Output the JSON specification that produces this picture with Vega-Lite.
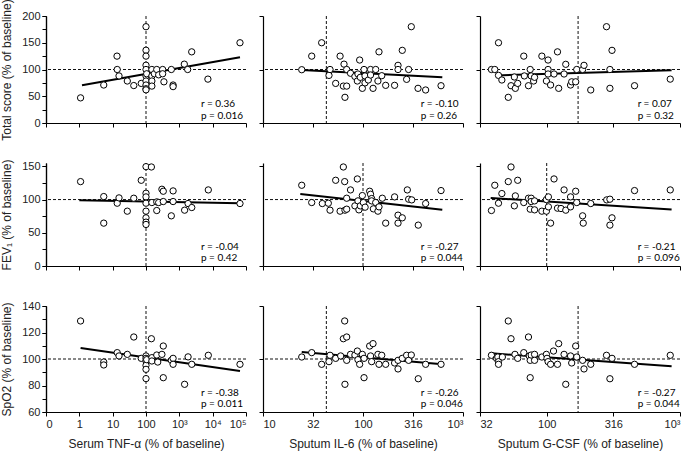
{
"$schema":"https://vega.github.io/schema/vega-lite/v6.json",
"autosize":{"type":"none"},
"padding":{"left":46,"top":16,"right":639,"bottom":441},
"background":"white",
"datasets":{
"pts":[
{"marker":"TNF","outcome":"Total","x":1.09,"y":47},{"marker":"TNF","outcome":"Total","x":5.4,"y":71},{"marker":"TNF","outcome":"Total","x":13.5,"y":125},{"marker":"TNF","outcome":"Total","x":13.7,"y":100},{"marker":"TNF","outcome":"Total","x":15.5,"y":88},{"marker":"TNF","outcome":"Total","x":27.5,"y":78.5},{"marker":"TNF","outcome":"Total","x":43,"y":70},{"marker":"TNF","outcome":"Total","x":72,"y":74},{"marker":"TNF","outcome":"Total","x":100,"y":180},{"marker":"TNF","outcome":"Total","x":100,"y":136},{"marker":"TNF","outcome":"Total","x":100,"y":125},{"marker":"TNF","outcome":"Total","x":100,"y":108},{"marker":"TNF","outcome":"Total","x":100,"y":100},{"marker":"TNF","outcome":"Total","x":100,"y":88},{"marker":"TNF","outcome":"Total","x":100,"y":78.5},{"marker":"TNF","outcome":"Total","x":100,"y":71},{"marker":"TNF","outcome":"Total","x":100,"y":64},{"marker":"TNF","outcome":"Total","x":100,"y":62},{"marker":"TNF","outcome":"Total","x":105,"y":92},{"marker":"TNF","outcome":"Total","x":150,"y":100},{"marker":"TNF","outcome":"Total","x":150,"y":88},{"marker":"TNF","outcome":"Total","x":150,"y":78.5},{"marker":"TNF","outcome":"Total","x":150,"y":69},{"marker":"TNF","outcome":"Total","x":178,"y":92},{"marker":"TNF","outcome":"Total","x":210,"y":100},{"marker":"TNF","outcome":"Total","x":240,"y":90},{"marker":"TNF","outcome":"Total","x":316,"y":100},{"marker":"TNF","outcome":"Total","x":316,"y":92},{"marker":"TNF","outcome":"Total","x":345,"y":77},{"marker":"TNF","outcome":"Total","x":575,"y":100},{"marker":"TNF","outcome":"Total","x":650,"y":71},{"marker":"TNF","outcome":"Total","x":650,"y":68},{"marker":"TNF","outcome":"Total","x":1410,"y":110},{"marker":"TNF","outcome":"Total","x":1780,"y":100},{"marker":"TNF","outcome":"Total","x":2350,"y":133},{"marker":"TNF","outcome":"Total","x":7200,"y":82},{"marker":"TNF","outcome":"Total","x":66000,"y":150},
{"marker":"TNF","outcome":"FEV1","x":1.09,"y":127},{"marker":"TNF","outcome":"FEV1","x":5.4,"y":104.5},{"marker":"TNF","outcome":"FEV1","x":5.4,"y":64.5},{"marker":"TNF","outcome":"FEV1","x":13.7,"y":94.5},{"marker":"TNF","outcome":"FEV1","x":15.5,"y":102.5},{"marker":"TNF","outcome":"FEV1","x":27.5,"y":82.5},{"marker":"TNF","outcome":"FEV1","x":43,"y":102},{"marker":"TNF","outcome":"FEV1","x":72,"y":129},{"marker":"TNF","outcome":"FEV1","x":100,"y":149.5},{"marker":"TNF","outcome":"FEV1","x":145,"y":149},{"marker":"TNF","outcome":"FEV1","x":100,"y":109.5},{"marker":"TNF","outcome":"FEV1","x":100,"y":104},{"marker":"TNF","outcome":"FEV1","x":100,"y":94.5},{"marker":"TNF","outcome":"FEV1","x":100,"y":82.5},{"marker":"TNF","outcome":"FEV1","x":100,"y":72.5},{"marker":"TNF","outcome":"FEV1","x":100,"y":66},{"marker":"TNF","outcome":"FEV1","x":100,"y":62.5},{"marker":"TNF","outcome":"FEV1","x":150,"y":95.5},{"marker":"TNF","outcome":"FEV1","x":210,"y":96.5},{"marker":"TNF","outcome":"FEV1","x":210,"y":83.5},{"marker":"TNF","outcome":"FEV1","x":240,"y":95.5},{"marker":"TNF","outcome":"FEV1","x":300,"y":115.5},{"marker":"TNF","outcome":"FEV1","x":330,"y":112.5},{"marker":"TNF","outcome":"FEV1","x":330,"y":97},{"marker":"TNF","outcome":"FEV1","x":575,"y":75.5},{"marker":"TNF","outcome":"FEV1","x":650,"y":113},{"marker":"TNF","outcome":"FEV1","x":650,"y":97},{"marker":"TNF","outcome":"FEV1","x":1440,"y":84},{"marker":"TNF","outcome":"FEV1","x":1830,"y":94},{"marker":"TNF","outcome":"FEV1","x":2360,"y":88},{"marker":"TNF","outcome":"FEV1","x":7400,"y":114.5},{"marker":"TNF","outcome":"FEV1","x":66000,"y":94},
{"marker":"TNF","outcome":"SpO2","x":1.09,"y":128.7},{"marker":"TNF","outcome":"SpO2","x":5.4,"y":97.7},{"marker":"TNF","outcome":"SpO2","x":5.4,"y":95.5},{"marker":"TNF","outcome":"SpO2","x":13.7,"y":104.8},{"marker":"TNF","outcome":"SpO2","x":15.5,"y":102.3},{"marker":"TNF","outcome":"SpO2","x":27.5,"y":103.5},{"marker":"TNF","outcome":"SpO2","x":43,"y":116.6},{"marker":"TNF","outcome":"SpO2","x":72,"y":100.5},{"marker":"TNF","outcome":"SpO2","x":100,"y":102.3},{"marker":"TNF","outcome":"SpO2","x":100,"y":100.5},{"marker":"TNF","outcome":"SpO2","x":100,"y":98.5},{"marker":"TNF","outcome":"SpO2","x":100,"y":95.2},{"marker":"TNF","outcome":"SpO2","x":100,"y":92.2},{"marker":"TNF","outcome":"SpO2","x":100,"y":85.2},{"marker":"TNF","outcome":"SpO2","x":105,"y":99.5},{"marker":"TNF","outcome":"SpO2","x":145,"y":115.3},{"marker":"TNF","outcome":"SpO2","x":150,"y":101},{"marker":"TNF","outcome":"SpO2","x":150,"y":98.5},{"marker":"TNF","outcome":"SpO2","x":210,"y":103},{"marker":"TNF","outcome":"SpO2","x":225,"y":97.7},{"marker":"TNF","outcome":"SpO2","x":300,"y":103.5},{"marker":"TNF","outcome":"SpO2","x":330,"y":109.8},{"marker":"TNF","outcome":"SpO2","x":330,"y":85.9},{"marker":"TNF","outcome":"SpO2","x":575,"y":99},{"marker":"TNF","outcome":"SpO2","x":650,"y":100.5},{"marker":"TNF","outcome":"SpO2","x":650,"y":96},{"marker":"TNF","outcome":"SpO2","x":1440,"y":80.9},{"marker":"TNF","outcome":"SpO2","x":1830,"y":101.6},{"marker":"TNF","outcome":"SpO2","x":2360,"y":96},{"marker":"TNF","outcome":"SpO2","x":7400,"y":102.8},{"marker":"TNF","outcome":"SpO2","x":66000,"y":96},
{"marker":"IL6","outcome":"Total","x":24.4,"y":99.6},{"marker":"IL6","outcome":"Total","x":30.7,"y":125},{"marker":"IL6","outcome":"Total","x":38.6,"y":150},{"marker":"IL6","outcome":"Total","x":45.7,"y":89},{"marker":"IL6","outcome":"Total","x":46.8,"y":100},{"marker":"IL6","outcome":"Total","x":53.3,"y":74},{"marker":"IL6","outcome":"Total","x":59,"y":125},{"marker":"IL6","outcome":"Total","x":63.6,"y":69},{"marker":"IL6","outcome":"Total","x":64.6,"y":110},{"marker":"IL6","outcome":"Total","x":66,"y":48},{"marker":"IL6","outcome":"Total","x":68.7,"y":100},{"marker":"IL6","outcome":"Total","x":68.7,"y":69},{"marker":"IL6","outcome":"Total","x":75,"y":93},{"marker":"IL6","outcome":"Total","x":83,"y":87},{"marker":"IL6","outcome":"Total","x":87.8,"y":78.5},{"marker":"IL6","outcome":"Total","x":89,"y":91.6},{"marker":"IL6","outcome":"Total","x":92.6,"y":117.7},{"marker":"IL6","outcome":"Total","x":94,"y":85.4},{"marker":"IL6","outcome":"Total","x":98.5,"y":64.8},{"marker":"IL6","outcome":"Total","x":102.4,"y":100},{"marker":"IL6","outcome":"Total","x":104.7,"y":75},{"marker":"IL6","outcome":"Total","x":104.7,"y":88},{"marker":"IL6","outcome":"Total","x":113,"y":80.4},{"marker":"IL6","outcome":"Total","x":119,"y":100},{"marker":"IL6","outcome":"Total","x":119,"y":89.7},{"marker":"IL6","outcome":"Total","x":126,"y":64.8},{"marker":"IL6","outcome":"Total","x":134,"y":100},{"marker":"IL6","outcome":"Total","x":141,"y":78.5},{"marker":"IL6","outcome":"Total","x":144.5,"y":133},{"marker":"IL6","outcome":"Total","x":154,"y":88.4},{"marker":"IL6","outcome":"Total","x":168.6,"y":70.4},{"marker":"IL6","outcome":"Total","x":207,"y":70.4},{"marker":"IL6","outcome":"Total","x":224,"y":107.8},{"marker":"IL6","outcome":"Total","x":224,"y":100},{"marker":"IL6","outcome":"Total","x":247,"y":135.8},{"marker":"IL6","outcome":"Total","x":273,"y":81.6},{"marker":"IL6","outcome":"Total","x":286,"y":100},{"marker":"IL6","outcome":"Total","x":304,"y":180},{"marker":"IL6","outcome":"Total","x":355,"y":64.8},{"marker":"IL6","outcome":"Total","x":423,"y":61.7},{"marker":"IL6","outcome":"Total","x":603,"y":69.7},
{"marker":"IL6","outcome":"FEV1","x":24.4,"y":121.5},{"marker":"IL6","outcome":"FEV1","x":30.7,"y":95.5},{"marker":"IL6","outcome":"FEV1","x":39.2,"y":94},{"marker":"IL6","outcome":"FEV1","x":45,"y":94.5},{"marker":"IL6","outcome":"FEV1","x":46.8,"y":84},{"marker":"IL6","outcome":"FEV1","x":53.3,"y":129},{"marker":"IL6","outcome":"FEV1","x":59,"y":82.5},{"marker":"IL6","outcome":"FEV1","x":63.6,"y":149},{"marker":"IL6","outcome":"FEV1","x":65.6,"y":127},{"marker":"IL6","outcome":"FEV1","x":66,"y":84},{"marker":"IL6","outcome":"FEV1","x":68.7,"y":85.5},{"marker":"IL6","outcome":"FEV1","x":68.7,"y":102},{"marker":"IL6","outcome":"FEV1","x":75,"y":114.5},{"marker":"IL6","outcome":"FEV1","x":83,"y":90.5},{"marker":"IL6","outcome":"FEV1","x":87.8,"y":131},{"marker":"IL6","outcome":"FEV1","x":89,"y":98},{"marker":"IL6","outcome":"FEV1","x":91,"y":84.5},{"marker":"IL6","outcome":"FEV1","x":94,"y":90.5},{"marker":"IL6","outcome":"FEV1","x":98.5,"y":106},{"marker":"IL6","outcome":"FEV1","x":100.8,"y":95.5},{"marker":"IL6","outcome":"FEV1","x":105,"y":88.5},{"marker":"IL6","outcome":"FEV1","x":116.6,"y":112.5},{"marker":"IL6","outcome":"FEV1","x":119,"y":108},{"marker":"IL6","outcome":"FEV1","x":122,"y":101.5},{"marker":"IL6","outcome":"FEV1","x":122,"y":98},{"marker":"IL6","outcome":"FEV1","x":127,"y":86},{"marker":"IL6","outcome":"FEV1","x":134,"y":95.5},{"marker":"IL6","outcome":"FEV1","x":141,"y":82.5},{"marker":"IL6","outcome":"FEV1","x":144.5,"y":89},{"marker":"IL6","outcome":"FEV1","x":156,"y":102},{"marker":"IL6","outcome":"FEV1","x":168.6,"y":64.5},{"marker":"IL6","outcome":"FEV1","x":207,"y":104},{"marker":"IL6","outcome":"FEV1","x":224,"y":76.5},{"marker":"IL6","outcome":"FEV1","x":224,"y":64.5},{"marker":"IL6","outcome":"FEV1","x":247,"y":72.5},{"marker":"IL6","outcome":"FEV1","x":277.5,"y":114.5},{"marker":"IL6","outcome":"FEV1","x":286,"y":100.5},{"marker":"IL6","outcome":"FEV1","x":307,"y":99.5},{"marker":"IL6","outcome":"FEV1","x":357,"y":61.5},{"marker":"IL6","outcome":"FEV1","x":423,"y":94},{"marker":"IL6","outcome":"FEV1","x":603,"y":113.5},
{"marker":"IL6","outcome":"SpO2","x":24.4,"y":101.5},{"marker":"IL6","outcome":"SpO2","x":30.7,"y":104.8},{"marker":"IL6","outcome":"SpO2","x":38.6,"y":96},{"marker":"IL6","outcome":"SpO2","x":45.7,"y":98},{"marker":"IL6","outcome":"SpO2","x":46.8,"y":102.8},{"marker":"IL6","outcome":"SpO2","x":53.3,"y":100.5},{"marker":"IL6","outcome":"SpO2","x":59.8,"y":102.3},{"marker":"IL6","outcome":"SpO2","x":63.6,"y":115.3},{"marker":"IL6","outcome":"SpO2","x":65.6,"y":128.7},{"marker":"IL6","outcome":"SpO2","x":66,"y":80.9},{"marker":"IL6","outcome":"SpO2","x":68.7,"y":116.6},{"marker":"IL6","outcome":"SpO2","x":68.7,"y":99},{"marker":"IL6","outcome":"SpO2","x":75,"y":103.5},{"marker":"IL6","outcome":"SpO2","x":83,"y":103},{"marker":"IL6","outcome":"SpO2","x":87.8,"y":106},{"marker":"IL6","outcome":"SpO2","x":89,"y":99.5},{"marker":"IL6","outcome":"SpO2","x":92.6,"y":96},{"marker":"IL6","outcome":"SpO2","x":98.5,"y":103.5},{"marker":"IL6","outcome":"SpO2","x":102.4,"y":85.9},{"marker":"IL6","outcome":"SpO2","x":102.4,"y":100.5},{"marker":"IL6","outcome":"SpO2","x":116.6,"y":109.8},{"marker":"IL6","outcome":"SpO2","x":126,"y":111.6},{"marker":"IL6","outcome":"SpO2","x":119,"y":102.3},{"marker":"IL6","outcome":"SpO2","x":122,"y":98},{"marker":"IL6","outcome":"SpO2","x":141,"y":103.5},{"marker":"IL6","outcome":"SpO2","x":144.5,"y":96},{"marker":"IL6","outcome":"SpO2","x":154,"y":102.8},{"marker":"IL6","outcome":"SpO2","x":168.6,"y":96},{"marker":"IL6","outcome":"SpO2","x":207,"y":97},{"marker":"IL6","outcome":"SpO2","x":224,"y":92.5},{"marker":"IL6","outcome":"SpO2","x":224,"y":99},{"marker":"IL6","outcome":"SpO2","x":247,"y":100.5},{"marker":"IL6","outcome":"SpO2","x":273,"y":102.8},{"marker":"IL6","outcome":"SpO2","x":286,"y":99},{"marker":"IL6","outcome":"SpO2","x":304,"y":103},{"marker":"IL6","outcome":"SpO2","x":357,"y":85.1},{"marker":"IL6","outcome":"SpO2","x":423,"y":96},{"marker":"IL6","outcome":"SpO2","x":603,"y":96},
{"marker":"GCSF","outcome":"Total","x":38.5,"y":100},{"marker":"GCSF","outcome":"Total","x":40.8,"y":100},{"marker":"GCSF","outcome":"Total","x":43.5,"y":150},{"marker":"GCSF","outcome":"Total","x":43.5,"y":89},{"marker":"GCSF","outcome":"Total","x":46.1,"y":80.4},{"marker":"GCSF","outcome":"Total","x":51.5,"y":48},{"marker":"GCSF","outcome":"Total","x":54,"y":69.7},{"marker":"GCSF","outcome":"Total","x":57.2,"y":86},{"marker":"GCSF","outcome":"Total","x":58.2,"y":64.8},{"marker":"GCSF","outcome":"Total","x":60.6,"y":74},{"marker":"GCSF","outcome":"Total","x":67.3,"y":125},{"marker":"GCSF","outcome":"Total","x":68,"y":88},{"marker":"GCSF","outcome":"Total","x":73,"y":69.7},{"marker":"GCSF","outcome":"Total","x":75.2,"y":100},{"marker":"GCSF","outcome":"Total","x":76.5,"y":88},{"marker":"GCSF","outcome":"Total","x":79.8,"y":78.5},{"marker":"GCSF","outcome":"Total","x":81.1,"y":85.4},{"marker":"GCSF","outcome":"Total","x":92,"y":125},{"marker":"GCSF","outcome":"Total","x":99.5,"y":78.5},{"marker":"GCSF","outcome":"Total","x":102.4,"y":117.7},{"marker":"GCSF","outcome":"Total","x":102.4,"y":100},{"marker":"GCSF","outcome":"Total","x":102.4,"y":91.6},{"marker":"GCSF","outcome":"Total","x":107,"y":71},{"marker":"GCSF","outcome":"Total","x":113.5,"y":91.6},{"marker":"GCSF","outcome":"Total","x":120.5,"y":133},{"marker":"GCSF","outcome":"Total","x":123,"y":64.8},{"marker":"GCSF","outcome":"Total","x":135,"y":91.6},{"marker":"GCSF","outcome":"Total","x":139,"y":109.7},{"marker":"GCSF","outcome":"Total","x":151,"y":71},{"marker":"GCSF","outcome":"Total","x":154,"y":77},{"marker":"GCSF","outcome":"Total","x":165,"y":77},{"marker":"GCSF","outcome":"Total","x":168,"y":100},{"marker":"GCSF","outcome":"Total","x":186,"y":100},{"marker":"GCSF","outcome":"Total","x":190.5,"y":107.8},{"marker":"GCSF","outcome":"Total","x":214,"y":61.7},{"marker":"GCSF","outcome":"Total","x":281,"y":180},{"marker":"GCSF","outcome":"Total","x":298,"y":100},{"marker":"GCSF","outcome":"Total","x":298,"y":64.8},{"marker":"GCSF","outcome":"Total","x":309,"y":135.8},{"marker":"GCSF","outcome":"Total","x":456,"y":69.7},{"marker":"GCSF","outcome":"Total","x":845,"y":82},
{"marker":"GCSF","outcome":"FEV1","x":38.5,"y":83.5},{"marker":"GCSF","outcome":"FEV1","x":40.8,"y":121.5},{"marker":"GCSF","outcome":"FEV1","x":43.5,"y":94.5},{"marker":"GCSF","outcome":"FEV1","x":46.1,"y":109},{"marker":"GCSF","outcome":"FEV1","x":54,"y":149},{"marker":"GCSF","outcome":"FEV1","x":51.5,"y":127},{"marker":"GCSF","outcome":"FEV1","x":57.2,"y":90.5},{"marker":"GCSF","outcome":"FEV1","x":58.2,"y":105.5},{"marker":"GCSF","outcome":"FEV1","x":60.6,"y":129},{"marker":"GCSF","outcome":"FEV1","x":67.3,"y":95.5},{"marker":"GCSF","outcome":"FEV1","x":73,"y":102},{"marker":"GCSF","outcome":"FEV1","x":75.2,"y":85.5},{"marker":"GCSF","outcome":"FEV1","x":76.5,"y":102},{"marker":"GCSF","outcome":"FEV1","x":76.5,"y":97},{"marker":"GCSF","outcome":"FEV1","x":81.1,"y":98},{"marker":"GCSF","outcome":"FEV1","x":81.1,"y":84.5},{"marker":"GCSF","outcome":"FEV1","x":92,"y":82.5},{"marker":"GCSF","outcome":"FEV1","x":99.5,"y":82.5},{"marker":"GCSF","outcome":"FEV1","x":99.5,"y":100},{"marker":"GCSF","outcome":"FEV1","x":103,"y":104},{"marker":"GCSF","outcome":"FEV1","x":103,"y":89},{"marker":"GCSF","outcome":"FEV1","x":107,"y":64.5},{"marker":"GCSF","outcome":"FEV1","x":113.5,"y":131},{"marker":"GCSF","outcome":"FEV1","x":120.5,"y":87},{"marker":"GCSF","outcome":"FEV1","x":128,"y":86.5},{"marker":"GCSF","outcome":"FEV1","x":135,"y":114.5},{"marker":"GCSF","outcome":"FEV1","x":139,"y":84},{"marker":"GCSF","outcome":"FEV1","x":151,"y":104},{"marker":"GCSF","outcome":"FEV1","x":151,"y":89},{"marker":"GCSF","outcome":"FEV1","x":165,"y":112.5},{"marker":"GCSF","outcome":"FEV1","x":168,"y":95.5},{"marker":"GCSF","outcome":"FEV1","x":186,"y":75.5},{"marker":"GCSF","outcome":"FEV1","x":188,"y":64.5},{"marker":"GCSF","outcome":"FEV1","x":214,"y":94},{"marker":"GCSF","outcome":"FEV1","x":282,"y":99.5},{"marker":"GCSF","outcome":"FEV1","x":298,"y":100.5},{"marker":"GCSF","outcome":"FEV1","x":298,"y":61.5},{"marker":"GCSF","outcome":"FEV1","x":309,"y":72.5},{"marker":"GCSF","outcome":"FEV1","x":456,"y":113.5},{"marker":"GCSF","outcome":"FEV1","x":845,"y":114.5},
{"marker":"GCSF","outcome":"SpO2","x":38.5,"y":102.8},{"marker":"GCSF","outcome":"SpO2","x":42,"y":100.5},{"marker":"GCSF","outcome":"SpO2","x":43,"y":101.5},{"marker":"GCSF","outcome":"SpO2","x":43.5,"y":98},{"marker":"GCSF","outcome":"SpO2","x":43.5,"y":96},{"marker":"GCSF","outcome":"SpO2","x":46.5,"y":101.5},{"marker":"GCSF","outcome":"SpO2","x":51.5,"y":128.7},{"marker":"GCSF","outcome":"SpO2","x":54,"y":115.3},{"marker":"GCSF","outcome":"SpO2","x":57.8,"y":103.5},{"marker":"GCSF","outcome":"SpO2","x":60.6,"y":100.5},{"marker":"GCSF","outcome":"SpO2","x":67.3,"y":104.8},{"marker":"GCSF","outcome":"SpO2","x":73,"y":116.6},{"marker":"GCSF","outcome":"SpO2","x":74,"y":102.3},{"marker":"GCSF","outcome":"SpO2","x":75.2,"y":85.9},{"marker":"GCSF","outcome":"SpO2","x":75.2,"y":99},{"marker":"GCSF","outcome":"SpO2","x":76.5,"y":103},{"marker":"GCSF","outcome":"SpO2","x":81.1,"y":103.5},{"marker":"GCSF","outcome":"SpO2","x":81.1,"y":99},{"marker":"GCSF","outcome":"SpO2","x":92,"y":101.5},{"marker":"GCSF","outcome":"SpO2","x":99.5,"y":103.5},{"marker":"GCSF","outcome":"SpO2","x":100.5,"y":100.5},{"marker":"GCSF","outcome":"SpO2","x":102.4,"y":98},{"marker":"GCSF","outcome":"SpO2","x":107,"y":96},{"marker":"GCSF","outcome":"SpO2","x":112.5,"y":106},{"marker":"GCSF","outcome":"SpO2","x":120.5,"y":96},{"marker":"GCSF","outcome":"SpO2","x":123,"y":111.6},{"marker":"GCSF","outcome":"SpO2","x":135,"y":103.5},{"marker":"GCSF","outcome":"SpO2","x":139,"y":80.9},{"marker":"GCSF","outcome":"SpO2","x":151,"y":102.3},{"marker":"GCSF","outcome":"SpO2","x":154,"y":97},{"marker":"GCSF","outcome":"SpO2","x":165,"y":109.8},{"marker":"GCSF","outcome":"SpO2","x":168,"y":101.5},{"marker":"GCSF","outcome":"SpO2","x":186,"y":99},{"marker":"GCSF","outcome":"SpO2","x":190.5,"y":92.5},{"marker":"GCSF","outcome":"SpO2","x":214,"y":96},{"marker":"GCSF","outcome":"SpO2","x":281,"y":102.8},{"marker":"GCSF","outcome":"SpO2","x":309,"y":100.5},{"marker":"GCSF","outcome":"SpO2","x":298,"y":85.1},{"marker":"GCSF","outcome":"SpO2","x":456,"y":96},{"marker":"GCSF","outcome":"SpO2","x":845,"y":102.8}
],
"fit":[
{"marker":"TNF","outcome":"Total","x":1.2,"y":70.4},{"marker":"TNF","outcome":"Total","x":66000,"y":122.8},
{"marker":"TNF","outcome":"FEV1","x":1,"y":99},{"marker":"TNF","outcome":"FEV1","x":66000,"y":94.5},
{"marker":"TNF","outcome":"SpO2","x":1.09,"y":108.3},{"marker":"TNF","outcome":"SpO2","x":66000,"y":91},
{"marker":"IL6","outcome":"Total","x":24.4,"y":99},{"marker":"IL6","outcome":"Total","x":621,"y":85.4},
{"marker":"IL6","outcome":"FEV1","x":23.6,"y":108.5},{"marker":"IL6","outcome":"FEV1","x":621,"y":84.5},
{"marker":"IL6","outcome":"SpO2","x":24.4,"y":105.3},{"marker":"IL6","outcome":"SpO2","x":621,"y":96},
{"marker":"GCSF","outcome":"Total","x":41.6,"y":89},{"marker":"GCSF","outcome":"Total","x":865,"y":98.4},
{"marker":"GCSF","outcome":"FEV1","x":38,"y":102.5},{"marker":"GCSF","outcome":"FEV1","x":865,"y":85},
{"marker":"GCSF","outcome":"SpO2","x":38.5,"y":104.3},{"marker":"GCSF","outcome":"SpO2","x":865,"y":94.5}
],
"stats":[
{"marker":"TNF","outcome":"Total","r":"r = 0.36","p":"p = 0.016"},
{"marker":"TNF","outcome":"FEV1","r":"r = -0.04","p":"p = 0.42"},
{"marker":"TNF","outcome":"SpO2","r":"r = -0.38","p":"p = 0.011"},
{"marker":"IL6","outcome":"Total","r":"r = -0.10","p":"p = 0.26"},
{"marker":"IL6","outcome":"FEV1","r":"r = -0.27","p":"p = 0.044"},
{"marker":"IL6","outcome":"SpO2","r":"r = -0.26","p":"p = 0.046"},
{"marker":"GCSF","outcome":"Total","r":"r = 0.07","p":"p = 0.32"},
{"marker":"GCSF","outcome":"FEV1","r":"r = -0.21","p":"p = 0.096"},
{"marker":"GCSF","outcome":"SpO2","r":"r = -0.27","p":"p = 0.044"}
]
},
"columns":3,
"spacing":{"row":40,"column":17},
"bounds":"flush",
"concat":[
{"width":200,"height":107,"resolve":{"axis":{"y":"independent"}},"layer":[
{"data":{"values":[{}]},"mark":{"type":"rule","strokeDash":[3,2],"color":"#111"},"encoding":{"y":{"datum":100,"type":"quantitative","scale":{"domain":[0,200],"nice":false},"axis":{"orient":"left","values":[0,50,100,150,200],"labelOverlap":false,"title":"Total score (% of baseline)","titlePadding":8}}}},
{"data":{"values":[{}]},"mark":{"type":"rule","strokeDash":[3,2],"color":"#111"},"encoding":{"x":{"datum":100,"type":"quantitative"}}},
{"data":{"name":"fit"},"transform":[{"filter":"datum.marker=='TNF'&&datum.outcome=='Total'"}],"mark":{"type":"line","color":"black","strokeWidth":2},"encoding":{"x":{"field":"x","type":"quantitative"},"y":{"field":"y","type":"quantitative","axis":null}}},
{"data":{"name":"pts"},"transform":[{"filter":"datum.marker=='TNF'&&datum.outcome=='Total'"}],"mark":{"type":"circle","size":40,"fill":"white","stroke":"black","strokeWidth":1,"opacity":1},"encoding":{
"x":{"field":"x","type":"quantitative","scale":{"type":"log","domain":[0.1,100000],"nice":false},"axis":{"values":[0.1,1,10,100,1000,10000,100000],"labels":false,"title":null}},
"y":{"field":"y","type":"quantitative","scale":{"domain":[0,200],"nice":false},"axis":{"orient":"left","values":[0,25,50,75,100,125,150,175,200],"labels":false,"title":null}}}},
{"data":{"name":"stats"},"transform":[{"filter":"datum.marker=='TNF'&&datum.outcome=='Total'"}],"mark":{"type":"text","align":"left","baseline":"middle","font":"Lato","fontSize":10,"color":"#000"},"encoding":{"x":{"datum":4450,"type":"quantitative"},"y":{"datum":35.5,"type":"quantitative","axis":null},"text":{"field":"r"}}},
{"data":{"name":"stats"},"transform":[{"filter":"datum.marker=='TNF'&&datum.outcome=='Total'"}],"mark":{"type":"text","align":"left","baseline":"middle","font":"Lato","fontSize":10,"color":"#000"},"encoding":{"x":{"datum":4450,"type":"quantitative"},"y":{"datum":13,"type":"quantitative","axis":null},"text":{"field":"p"}}}
]},
{"width":200,"height":107,"layer":[
{"data":{"values":[{}]},"mark":{"type":"rule","strokeDash":[3,2],"color":"#111"},"encoding":{"y":{"datum":100,"type":"quantitative"}}},
{"data":{"values":[{}]},"mark":{"type":"rule","strokeDash":[3,2],"color":"#111"},"encoding":{"x":{"datum":43,"type":"quantitative"}}},
{"data":{"name":"fit"},"transform":[{"filter":"datum.marker=='IL6'&&datum.outcome=='Total'"}],"mark":{"type":"line","color":"black","strokeWidth":2},"encoding":{"x":{"field":"x","type":"quantitative"},"y":{"field":"y","type":"quantitative"}}},
{"data":{"name":"pts"},"transform":[{"filter":"datum.marker=='IL6'&&datum.outcome=='Total'"}],"mark":{"type":"circle","size":40,"fill":"white","stroke":"black","strokeWidth":1,"opacity":1},"encoding":{
"x":{"field":"x","type":"quantitative","scale":{"type":"log","domain":[10,1000],"nice":false},"axis":{"values":[10,31.6,100,316,1000],"labels":false,"title":null}},
"y":{"field":"y","type":"quantitative","scale":{"domain":[0,200],"nice":false},"axis":{"values":[0,25,50,75,100,125,150,175,200],"labels":false,"title":null}}}},
{"data":{"name":"stats"},"transform":[{"filter":"datum.marker=='IL6'&&datum.outcome=='Total'"}],"mark":{"type":"text","align":"left","baseline":"middle","font":"Lato","fontSize":10,"color":"#000"},"encoding":{"x":{"datum":378,"type":"quantitative"},"y":{"datum":35.5,"type":"quantitative"},"text":{"field":"r"}}},
{"data":{"name":"stats"},"transform":[{"filter":"datum.marker=='IL6'&&datum.outcome=='Total'"}],"mark":{"type":"text","align":"left","baseline":"middle","font":"Lato","fontSize":10,"color":"#000"},"encoding":{"x":{"datum":378,"type":"quantitative"},"y":{"datum":13,"type":"quantitative"},"text":{"field":"p"}}}
]},
{"width":200,"height":107,"layer":[
{"data":{"values":[{}]},"mark":{"type":"rule","strokeDash":[3,2],"color":"#111"},"encoding":{"y":{"datum":100,"type":"quantitative"}}},
{"data":{"values":[{}]},"mark":{"type":"rule","strokeDash":[3,2],"color":"#111"},"encoding":{"x":{"datum":172,"type":"quantitative"}}},
{"data":{"name":"fit"},"transform":[{"filter":"datum.marker=='GCSF'&&datum.outcome=='Total'"}],"mark":{"type":"line","color":"black","strokeWidth":2},"encoding":{"x":{"field":"x","type":"quantitative"},"y":{"field":"y","type":"quantitative"}}},
{"data":{"name":"pts"},"transform":[{"filter":"datum.marker=='GCSF'&&datum.outcome=='Total'"}],"mark":{"type":"circle","size":40,"fill":"white","stroke":"black","strokeWidth":1,"opacity":1},"encoding":{
"x":{"field":"x","type":"quantitative","scale":{"type":"log","domain":[31.6,1000],"nice":false},"axis":{"values":[31.6,100,316,1000],"labels":false,"title":null}},
"y":{"field":"y","type":"quantitative","scale":{"domain":[0,200],"nice":false},"axis":{"values":[0,25,50,75,100,125,150,175,200],"labels":false,"title":null}}}},
{"data":{"name":"stats"},"transform":[{"filter":"datum.marker=='GCSF'&&datum.outcome=='Total'"}],"mark":{"type":"text","align":"left","baseline":"middle","font":"Lato","fontSize":10,"color":"#000"},"encoding":{"x":{"datum":481,"type":"quantitative"},"y":{"datum":35.5,"type":"quantitative"},"text":{"field":"r"}}},
{"data":{"name":"stats"},"transform":[{"filter":"datum.marker=='GCSF'&&datum.outcome=='Total'"}],"mark":{"type":"text","align":"left","baseline":"middle","font":"Lato","fontSize":10,"color":"#000"},"encoding":{"x":{"datum":481,"type":"quantitative"},"y":{"datum":13,"type":"quantitative"},"text":{"field":"p"}}}
]},
{"width":200,"height":103,"resolve":{"axis":{"y":"independent"}},"layer":[
{"data":{"values":[{}]},"mark":{"type":"rule","strokeDash":[3,2],"color":"#111"},"encoding":{"y":{"datum":100,"type":"quantitative","scale":{"domain":[0,155],"nice":false},"axis":{"orient":"left","values":[0,50,100,150],"labelOverlap":false,"title":"FEV₁ (% of baseline)","titlePadding":8}}}},
{"data":{"values":[{}]},"mark":{"type":"rule","strokeDash":[3,2],"color":"#111"},"encoding":{"x":{"datum":100,"type":"quantitative"}}},
{"data":{"name":"fit"},"transform":[{"filter":"datum.marker=='TNF'&&datum.outcome=='FEV1'"}],"mark":{"type":"line","color":"black","strokeWidth":2},"encoding":{"x":{"field":"x","type":"quantitative"},"y":{"field":"y","type":"quantitative","axis":null}}},
{"data":{"name":"pts"},"transform":[{"filter":"datum.marker=='TNF'&&datum.outcome=='FEV1'"}],"mark":{"type":"circle","size":40,"fill":"white","stroke":"black","strokeWidth":1,"opacity":1},"encoding":{
"x":{"field":"x","type":"quantitative","scale":{"type":"log","domain":[0.1,100000],"nice":false},"axis":{"values":[0.1,1,10,100,1000,10000,100000],"labels":false,"title":null}},
"y":{"field":"y","type":"quantitative","scale":{"domain":[0,155],"nice":false},"axis":{"orient":"left","values":[0,25,50,75,100,125,150],"labels":false,"title":null}}}},
{"data":{"name":"stats"},"transform":[{"filter":"datum.marker=='TNF'&&datum.outcome=='FEV1'"}],"mark":{"type":"text","align":"left","baseline":"middle","font":"Lato","fontSize":10,"color":"#000"},"encoding":{"x":{"datum":4450,"type":"quantitative"},"y":{"datum":28.5,"type":"quantitative","axis":null},"text":{"field":"r"}}},
{"data":{"name":"stats"},"transform":[{"filter":"datum.marker=='TNF'&&datum.outcome=='FEV1'"}],"mark":{"type":"text","align":"left","baseline":"middle","font":"Lato","fontSize":10,"color":"#000"},"encoding":{"x":{"datum":4450,"type":"quantitative"},"y":{"datum":12,"type":"quantitative","axis":null},"text":{"field":"p"}}}
]},
{"width":200,"height":103,"layer":[
{"data":{"values":[{}]},"mark":{"type":"rule","strokeDash":[3,2],"color":"#111"},"encoding":{"y":{"datum":100,"type":"quantitative"}}},
{"data":{"values":[{}]},"mark":{"type":"rule","strokeDash":[3,2],"color":"#111"},"encoding":{"x":{"datum":100,"type":"quantitative"}}},
{"data":{"name":"fit"},"transform":[{"filter":"datum.marker=='IL6'&&datum.outcome=='FEV1'"}],"mark":{"type":"line","color":"black","strokeWidth":2},"encoding":{"x":{"field":"x","type":"quantitative"},"y":{"field":"y","type":"quantitative"}}},
{"data":{"name":"pts"},"transform":[{"filter":"datum.marker=='IL6'&&datum.outcome=='FEV1'"}],"mark":{"type":"circle","size":40,"fill":"white","stroke":"black","strokeWidth":1,"opacity":1},"encoding":{
"x":{"field":"x","type":"quantitative","scale":{"type":"log","domain":[10,1000],"nice":false},"axis":{"values":[10,31.6,100,316,1000],"labels":false,"title":null}},
"y":{"field":"y","type":"quantitative","scale":{"domain":[0,155],"nice":false},"axis":{"values":[0,25,50,75,100,125,150],"labels":false,"title":null}}}},
{"data":{"name":"stats"},"transform":[{"filter":"datum.marker=='IL6'&&datum.outcome=='FEV1'"}],"mark":{"type":"text","align":"left","baseline":"middle","font":"Lato","fontSize":10,"color":"#000"},"encoding":{"x":{"datum":378,"type":"quantitative"},"y":{"datum":28.5,"type":"quantitative"},"text":{"field":"r"}}},
{"data":{"name":"stats"},"transform":[{"filter":"datum.marker=='IL6'&&datum.outcome=='FEV1'"}],"mark":{"type":"text","align":"left","baseline":"middle","font":"Lato","fontSize":10,"color":"#000"},"encoding":{"x":{"datum":378,"type":"quantitative"},"y":{"datum":12,"type":"quantitative"},"text":{"field":"p"}}}
]},
{"width":200,"height":103,"layer":[
{"data":{"values":[{}]},"mark":{"type":"rule","strokeDash":[3,2],"color":"#111"},"encoding":{"y":{"datum":100,"type":"quantitative"}}},
{"data":{"values":[{}]},"mark":{"type":"rule","strokeDash":[3,2],"color":"#111"},"encoding":{"x":{"datum":100,"type":"quantitative"}}},
{"data":{"name":"fit"},"transform":[{"filter":"datum.marker=='GCSF'&&datum.outcome=='FEV1'"}],"mark":{"type":"line","color":"black","strokeWidth":2},"encoding":{"x":{"field":"x","type":"quantitative"},"y":{"field":"y","type":"quantitative"}}},
{"data":{"name":"pts"},"transform":[{"filter":"datum.marker=='GCSF'&&datum.outcome=='FEV1'"}],"mark":{"type":"circle","size":40,"fill":"white","stroke":"black","strokeWidth":1,"opacity":1},"encoding":{
"x":{"field":"x","type":"quantitative","scale":{"type":"log","domain":[31.6,1000],"nice":false},"axis":{"values":[31.6,100,316,1000],"labels":false,"title":null}},
"y":{"field":"y","type":"quantitative","scale":{"domain":[0,155],"nice":false},"axis":{"values":[0,25,50,75,100,125,150],"labels":false,"title":null}}}},
{"data":{"name":"stats"},"transform":[{"filter":"datum.marker=='GCSF'&&datum.outcome=='FEV1'"}],"mark":{"type":"text","align":"left","baseline":"middle","font":"Lato","fontSize":10,"color":"#000"},"encoding":{"x":{"datum":481,"type":"quantitative"},"y":{"datum":28.5,"type":"quantitative"},"text":{"field":"r"}}},
{"data":{"name":"stats"},"transform":[{"filter":"datum.marker=='GCSF'&&datum.outcome=='FEV1'"}],"mark":{"type":"text","align":"left","baseline":"middle","font":"Lato","fontSize":10,"color":"#000"},"encoding":{"x":{"datum":481,"type":"quantitative"},"y":{"datum":12,"type":"quantitative"},"text":{"field":"p"}}}
]},
{"width":200,"height":106,"resolve":{"axis":{"y":"independent"}},"layer":[
{"data":{"values":[{}]},"mark":{"type":"rule","strokeDash":[3,2],"color":"#111"},"encoding":{"y":{"datum":100,"type":"quantitative","scale":{"domain":[60,140],"nice":false,"zero":false},"axis":{"orient":"left","values":[60,80,100,120,140],"labelOverlap":false,"title":"SpO2 (% of baseline)","titlePadding":8}}}},
{"data":{"values":[{}]},"mark":{"type":"rule","strokeDash":[3,2],"color":"#111"},"encoding":{"x":{"datum":100,"type":"quantitative"}}},
{"data":{"name":"fit"},"transform":[{"filter":"datum.marker=='TNF'&&datum.outcome=='SpO2'"}],"mark":{"type":"line","color":"black","strokeWidth":2},"encoding":{"x":{"field":"x","type":"quantitative"},"y":{"field":"y","type":"quantitative","axis":null}}},
{"data":{"name":"pts"},"transform":[{"filter":"datum.marker=='TNF'&&datum.outcome=='SpO2'"}],"mark":{"type":"circle","size":40,"fill":"white","stroke":"black","strokeWidth":1,"opacity":1},"encoding":{
"x":{"field":"x","type":"quantitative","scale":{"type":"log","domain":[0.1,100000],"nice":false},"axis":{"values":[0.1,1,10,100,1000,10000,100000],"labelOverlap":false,"labelFlush":true,"labelExpr":"datum.value<0.5?'0':datum.value<999?format(datum.value,'d'):datum.value<9999?'10³':datum.value<99999?'10⁴':'10⁵'","title":"Serum TNF-α (% of baseline)","titlePadding":9}},
"y":{"field":"y","type":"quantitative","scale":{"domain":[60,140],"nice":false,"zero":false},"axis":{"orient":"left","values":[60,70,80,90,100,110,120,130,140],"labels":false,"title":null}}}},
{"data":{"name":"stats"},"transform":[{"filter":"datum.marker=='TNF'&&datum.outcome=='SpO2'"}],"mark":{"type":"text","align":"left","baseline":"middle","font":"Lato","fontSize":10,"color":"#000"},"encoding":{"x":{"datum":4450,"type":"quantitative"},"y":{"datum":74.3,"type":"quantitative","axis":null},"text":{"field":"r"}}},
{"data":{"name":"stats"},"transform":[{"filter":"datum.marker=='TNF'&&datum.outcome=='SpO2'"}],"mark":{"type":"text","align":"left","baseline":"middle","font":"Lato","fontSize":10,"color":"#000"},"encoding":{"x":{"datum":4450,"type":"quantitative"},"y":{"datum":66,"type":"quantitative","axis":null},"text":{"field":"p"}}}
]},
{"width":200,"height":106,"layer":[
{"data":{"values":[{}]},"mark":{"type":"rule","strokeDash":[3,2],"color":"#111"},"encoding":{"y":{"datum":100,"type":"quantitative"}}},
{"data":{"values":[{}]},"mark":{"type":"rule","strokeDash":[3,2],"color":"#111"},"encoding":{"x":{"datum":43,"type":"quantitative"}}},
{"data":{"name":"fit"},"transform":[{"filter":"datum.marker=='IL6'&&datum.outcome=='SpO2'"}],"mark":{"type":"line","color":"black","strokeWidth":2},"encoding":{"x":{"field":"x","type":"quantitative"},"y":{"field":"y","type":"quantitative"}}},
{"data":{"name":"pts"},"transform":[{"filter":"datum.marker=='IL6'&&datum.outcome=='SpO2'"}],"mark":{"type":"circle","size":40,"fill":"white","stroke":"black","strokeWidth":1,"opacity":1},"encoding":{
"x":{"field":"x","type":"quantitative","scale":{"type":"log","domain":[10,1000],"nice":false},"axis":{"values":[10,31.6,100,316,1000],"labelOverlap":false,"labelFlush":true,"labelExpr":"datum.value<11?'10':datum.value<40?'32':datum.value<200?'100':datum.value<500?'316':'10³'","title":"Sputum IL-6 (% of baseline)","titlePadding":9}},
"y":{"field":"y","type":"quantitative","scale":{"domain":[60,140],"nice":false,"zero":false},"axis":{"values":[60,70,80,90,100,110,120,130,140],"labels":false,"title":null}}}},
{"data":{"name":"stats"},"transform":[{"filter":"datum.marker=='IL6'&&datum.outcome=='SpO2'"}],"mark":{"type":"text","align":"left","baseline":"middle","font":"Lato","fontSize":10,"color":"#000"},"encoding":{"x":{"datum":378,"type":"quantitative"},"y":{"datum":74.3,"type":"quantitative"},"text":{"field":"r"}}},
{"data":{"name":"stats"},"transform":[{"filter":"datum.marker=='IL6'&&datum.outcome=='SpO2'"}],"mark":{"type":"text","align":"left","baseline":"middle","font":"Lato","fontSize":10,"color":"#000"},"encoding":{"x":{"datum":378,"type":"quantitative"},"y":{"datum":66,"type":"quantitative"},"text":{"field":"p"}}}
]},
{"width":200,"height":106,"layer":[
{"data":{"values":[{}]},"mark":{"type":"rule","strokeDash":[3,2],"color":"#111"},"encoding":{"y":{"datum":100,"type":"quantitative"}}},
{"data":{"values":[{}]},"mark":{"type":"rule","strokeDash":[3,2],"color":"#111"},"encoding":{"x":{"datum":172,"type":"quantitative"}}},
{"data":{"name":"fit"},"transform":[{"filter":"datum.marker=='GCSF'&&datum.outcome=='SpO2'"}],"mark":{"type":"line","color":"black","strokeWidth":2},"encoding":{"x":{"field":"x","type":"quantitative"},"y":{"field":"y","type":"quantitative"}}},
{"data":{"name":"pts"},"transform":[{"filter":"datum.marker=='GCSF'&&datum.outcome=='SpO2'"}],"mark":{"type":"circle","size":40,"fill":"white","stroke":"black","strokeWidth":1,"opacity":1},"encoding":{
"x":{"field":"x","type":"quantitative","scale":{"type":"log","domain":[31.6,1000],"nice":false},"axis":{"values":[31.6,100,316,1000],"labelOverlap":false,"labelFlush":true,"labelExpr":"datum.value<40?'32':datum.value<200?'100':datum.value<500?'316':'10³'","title":"Sputum G-CSF (% of baseline)","titlePadding":9}},
"y":{"field":"y","type":"quantitative","scale":{"domain":[60,140],"nice":false,"zero":false},"axis":{"values":[60,70,80,90,100,110,120,130,140],"labels":false,"title":null}}}},
{"data":{"name":"stats"},"transform":[{"filter":"datum.marker=='GCSF'&&datum.outcome=='SpO2'"}],"mark":{"type":"text","align":"left","baseline":"middle","font":"Lato","fontSize":10,"color":"#000"},"encoding":{"x":{"datum":481,"type":"quantitative"},"y":{"datum":74.3,"type":"quantitative"},"text":{"field":"r"}}},
{"data":{"name":"stats"},"transform":[{"filter":"datum.marker=='GCSF'&&datum.outcome=='SpO2'"}],"mark":{"type":"text","align":"left","baseline":"middle","font":"Lato","fontSize":10,"color":"#000"},"encoding":{"x":{"datum":481,"type":"quantitative"},"y":{"datum":66,"type":"quantitative"},"text":{"field":"p"}}}
]}
],
"config":{
"view":{"stroke":null},
"axis":{"grid":false,"domainColor":"#000","tickColor":"#000","domainWidth":1.2,"tickWidth":1,"tickSize":4,"labelFont":"Liberation Sans","labelFontSize":11,"labelColor":"#222","titleFont":"Liberation Sans","titleFontSize":12,"titleFontWeight":"normal","titleColor":"#222","labelFlush":false,"labelOverlap":false,"labelPadding":2}
}
}
